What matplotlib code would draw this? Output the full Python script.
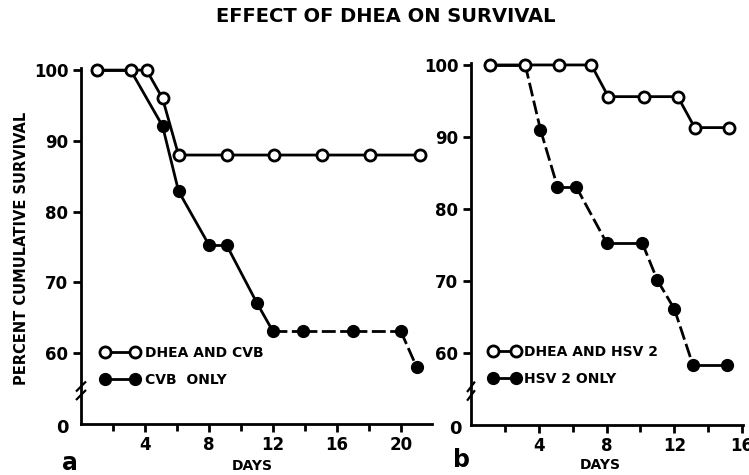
import numpy as np
import matplotlib
matplotlib.use("Agg")
import matplotlib.pyplot as plt
from matplotlib.lines import Line2D

plt.rcParams['font.family'] = ['DejaVu Sans']
plt.rcParams['font.weight'] = 'bold'

# panel a: CVB
days_a_dhea = [1.0, 3.1, 4.1, 5.1, 6.1, 9.1, 12.1, 15.1, 18.1, 21.2]
surv_a_dhea = [100, 100, 100, 96, 88, 88, 88, 88, 88, 88]
days_a_ctrl = [1.0, 3.1, 5.1, 6.1, 8.0, 9.1, 11.0, 12.0, 13.9, 17.0, 20.0, 21.0]
surv_a_ctrl = [100, 100, 92.1, 82.9, 75.3, 75.3, 67.1, 63.1, 63.1, 63.1, 63.1, 58.0]
dash_a_ctrl = [0, 0, 0, 0, 0, 0, 0, 1, 1, 1, 1]   # 1 = dashed segment

# panel b: HSV 2
days_b_dhea = [1.1, 3.2, 5.2, 7.1, 8.1, 10.2, 12.2, 13.2, 15.2]
surv_b_dhea = [100, 100, 100, 100, 95.6, 95.6, 95.6, 91.3, 91.3]
days_b_ctrl = [1.1, 3.2, 4.1, 5.1, 6.2, 8.0, 10.1, 11.0, 12.0, 13.1, 15.1]
surv_b_ctrl = [100, 100, 91.0, 83.1, 83.1, 75.3, 75.3, 70.1, 66.1, 58.3, 58.3]
dash_b_ctrl = [0, 1, 1, 0, 1, 0, 1, 1, 1, 0]

yticks = [60, 70, 80, 90, 100]

fig = plt.figure(figsize=(7.49, 4.75), dpi=100)
ax_a = fig.add_axes([81 / 749, 0.1074, 351 / 749, 0.7495])
ax_b = fig.add_axes([471 / 749, 0.1053, 272 / 749, 0.7625])

def draw_panel(ax, xd, yd, xc, yc, dash, xmax, lab1, lab2, legpos, hl, htp):
    for i in range(len(xc) - 1):
        ls = (0, (5, 1.6)) if dash[i] else '-'
        ax.plot(xc[i:i+2], yc[i:i+2], color='black', lw=2, ls=ls, clip_on=False)
    ax.plot(xc, yc, ls='none', marker='o', ms=8.5, mfc='black', mec='black', clip_on=False)
    ax.plot(xd, yd, color='black', lw=2, marker='o', ms=8, mfc='white', mec='black',
            mew=2, clip_on=False)
    ax.set_xlim(0, xmax)
    ax.set_ylim(50, 100.3)
    for s in ['top', 'right']:
        ax.spines[s].set_visible(False)
    for s in ['left', 'bottom']:
        ax.spines[s].set_linewidth(2)
    ax.set_yticks(yticks)
    ax.set_yticklabels([str(t) for t in yticks], fontsize=12, fontweight='bold')
    xt = np.arange(4, xmax, 4)
    ax.set_xticks(xt)
    ax.set_xticklabels([str(int(t)) for t in xt], fontsize=12, fontweight='bold')
    ax.set_xticks(np.arange(2, xmax, 2), minor=True)
    ax.tick_params(axis='both', which='major', length=6, width=2, pad=3)
    ax.tick_params(axis='x', which='minor', length=5, width=2)
    # axis break
    tr = ax.get_yaxis_transform()
    for dy in (-0.6, 0.6):
        ax.plot([-0.012, 0.012], [54.7 + dy - 0.6, 54.7 + dy + 0.6], transform=tr,
                color='black', lw=1.6, clip_on=False)
    ax.text(-0.035, 49.5, '0', transform=tr, ha='right', va='center', fontsize=13,
            fontweight='bold')
    h1 = Line2D([], [], color='black', lw=2, marker='o', ms=8, mfc='white', mec='black', mew=2)
    h2 = Line2D([], [], color='black', lw=2, marker='o', ms=8.5, mfc='black', mec='black')
    ax.legend([h1, h2], [lab1, lab2], loc='upper left', bbox_to_anchor=legpos,
              bbox_transform=fig.transFigure, frameon=False, numpoints=2,
              handlelength=hl, handletextpad=htp, labelspacing=0.92,
              borderpad=0, borderaxespad=0, prop={'size': 10, 'weight': 'bold'})

draw_panel(ax_a, days_a_dhea, surv_a_dhea, days_a_ctrl, surv_a_ctrl, dash_a_ctrl,
           21.95, 'DHEA AND CVB', 'CVB  ONLY', (101 / 749, (475 - 346) / 475), 2.76, 0.43)
draw_panel(ax_b, days_b_dhea, surv_b_dhea, days_b_ctrl, surv_b_ctrl, dash_b_ctrl,
           16.05, 'DHEA AND HSV 2', 'HSV 2 ONLY', (489 / 749, (475 - 345) / 475), 2.25, 0.25)

fig.text(386 / 749, 1 - 17 / 475, 'EFFECT OF DHEA ON SURVIVAL', ha='center', va='center',
         fontsize=14, fontweight='bold')
fig.text(22 / 749, 1 - 248 / 475, 'PERCENT CUMULATIVE SURVIVAL', rotation=90,
         ha='center', va='center', fontsize=10.5, fontweight='bold')
fig.text(252 / 749, 1 - 466 / 475, 'DAYS', ha='center', va='center', fontsize=10, fontweight='bold')
fig.text(600 / 749, 1 - 465 / 475, 'DAYS', ha='center', va='center', fontsize=10, fontweight='bold')
fig.text(70 / 749, 1 - 463 / 475, 'a', ha='center', va='center', fontsize=17, fontweight='bold')
fig.text(462 / 749, 1 - 460 / 475, 'b', ha='center', va='center', fontsize=17, fontweight='bold')

fig.savefig('out.png', dpi=100)
